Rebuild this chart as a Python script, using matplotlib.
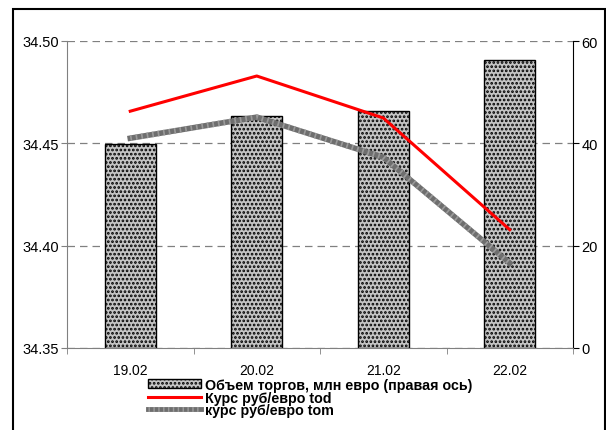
import matplotlib
matplotlib.use("Agg")
import matplotlib.pyplot as plt
from matplotlib.lines import Line2D
from matplotlib.patches import Rectangle, Patch
from matplotlib.legend_handler import HandlerTuple

plt.rcParams['font.family'] = ['Liberation Sans', 'DejaVu Sans']
plt.rcParams['hatch.color'] = '#505050'
plt.rcParams['hatch.linewidth'] = 1.3

categories = ['19.02', '20.02', '21.02', '22.02']
volume = [39.9, 45.3, 46.3, 56.2]
rate_tod = [34.4657, 34.4829, 34.4624, 34.4078]
rate_tom = [34.4525, 34.4628, 34.4432, 34.3915]
left_ticks = [34.35, 34.40, 34.45, 34.50]
right_ticks = [0, 20, 40, 60]
labels = ['Объем торгов, млн евро (правая ось)', 'Курс руб/евро tod', 'курс руб/евро tom']

W, H = 606, 431
fig = plt.figure(figsize=(W / 100, H / 100), dpi=100)
ax = fig.add_axes([67 / W, 1 - 349 / H, (573 - 67) / W, (349 - 42) / H])
ax2 = ax.twinx()

x = list(range(len(categories)))

# bars on right axis
bars = ax2.bar(x, volume, width=0.4, facecolor='#c4c4c4', edgecolor='black',
               linewidth=1.0, hatch='....', zorder=2)
ax2.set_ylim(0, 60)
ax2.set_yticks(right_ticks)
ax2.set_yticklabels([str(t) for t in right_ticks])
ax2.yaxis.grid(True, linestyle=(0, (6, 4)), color='#808080', linewidth=0.9)
ax2.set_axisbelow(True)

# lines on left axis
ax.set_zorder(ax2.get_zorder() + 1)
ax.patch.set_visible(False)
ax.plot(x, rate_tom, color='#6e6e6e', linewidth=4, zorder=3)
ax.plot(x, rate_tom, color='#9a9a9a', linewidth=4, dashes=(0.3, 0.7), zorder=3)
ax.plot(x, rate_tod, color='#ff0000', linewidth=2.2, zorder=4)
ax.set_ylim(34.35, 34.50)
ax.set_yticks(left_ticks)
ax.set_yticklabels([f'{t:.2f}' for t in left_ticks])
ax.set_xlim(-0.5, len(categories) - 0.5)
ax.set_xticks(x)
ax.set_xticklabels(categories)
ax.set_xticks([i + 0.5 for i in range(-1, len(categories))], minor=True)
ax.tick_params(axis='x', which='major', length=0, pad=11, labelsize=10)
ax.tick_params(axis='x', which='minor', length=4, direction='out', color='#808080')
ax.tick_params(axis='y', length=4, direction='out', color='#808080', labelsize=10.5, pad=2)
ax2.tick_params(axis='y', length=4, direction='out', color='black', labelsize=10.5, pad=2)

for a in (ax, ax2):
    a.spines['top'].set_visible(False)
ax.spines['left'].set_color('#808080')
ax.spines['bottom'].set_color('#808080')
ax.spines['right'].set_visible(False)
ax2.spines['left'].set_visible(False)
ax2.spines['bottom'].set_visible(False)
ax2.spines['right'].set_color('black')

# outer frame
fig.patches.append(Rectangle((13 / W, -0.02), (605 - 13) / W, 1.02 - 10 / H,
                             transform=fig.transFigure, fill=False,
                             edgecolor='black', linewidth=1.5))

bar_handle = Patch(facecolor='#c4c4c4', edgecolor='black', hatch='....', linewidth=1.0)
h_tod = Line2D([], [], color='#ff0000', linewidth=2.2)
h_tom1 = Line2D([], [], color='#6e6e6e', linewidth=3.5)
h_tom2 = Line2D([], [], color='#9a9a9a', linewidth=3.5, dashes=(0.3, 0.7))
fig.legend([bar_handle, h_tod, (h_tom1, h_tom2)], labels,
           handler_map={tuple: HandlerTuple(ndivide=1)},
           loc='upper left', bbox_to_anchor=(148 / W, 1 - 379 / H),
           bbox_transform=fig.transFigure, frameon=False, borderpad=0,
           borderaxespad=0, handlelength=3.7, handleheight=0.6, handletextpad=0.3,
           labelspacing=-0.1, prop={'weight': 'bold', 'size': 10.3})

fig.savefig('out.png', dpi=100)
